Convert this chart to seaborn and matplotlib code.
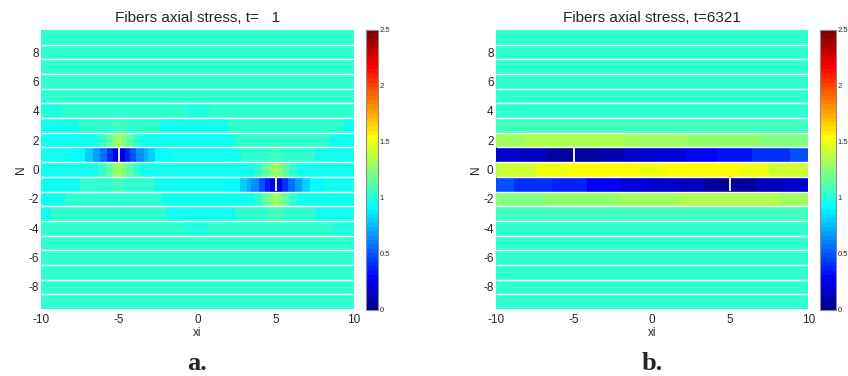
import numpy as np
import matplotlib
matplotlib.use("Agg")
import matplotlib.pyplot as plt
import seaborn as sns
from matplotlib.colors import ListedColormap

# ---- data ----
fiber_n = [9, 8, 7, 6, 5, 4, 3, 2, 1, 0, -1, -2, -3, -4, -5, -6, -7, -8, -9]
xi_ticks = [-10, -5, 0, 5, 10]
n_ticks = [8, 6, 4, 2, 0, -2, -4, -6, -8]
cbar_ticks = [0, 0.5, 1, 1.5, 2, 2.5]
cbar_labels = ["0", "0.5", "1", "1.5", "2", "2.5"]
titles = ["Fibers axial stress, t=   1", "Fibers axial stress, t=6321"]
panel_letters = ["a.", "b."]
break_xi = [-5, 5]
break_n = [1, -1]
bg_stress = 1.04

# panel a (t=1): piecewise constant stress per fiber, edges in xi
a_n5_edges = [-9.76]
a_n5_stress = [1.00, 1.04]
a_n4_edges = [-8.70, -0.67, 0.78]
a_n4_stress = [0.98, 1.04, 0.98, 1.04]
a_n3_edges = [-7.53, -5.51, -4.49, -2.42, 1.95, 9.36]
a_n3_stress = [0.96, 1.04, 1.07, 1.04, 0.96, 1.04, 0.96]
a_n2_edges = [-6.36, -5.85, -5.45, -5.2, -4.8, -4.55, -4.15, -3.69, 2.37, 8.45]
a_n2_stress = [0.96, 1.04, 1.15, 1.23, 1.31, 1.23, 1.15, 1.04, 0.96, 1.04, 0.96]
a_n1_edges = [-8.04, -7.19, -6.66, -6.23, -5.80, -5.38, -4.63, -4.31, -3.89,
              -3.46, -3.14, -2.72, -1.76, 2.82, 4.63, 5.38, 7.51]
a_n1_stress = [0.96, 0.92, 0.80, 0.68, 0.57, 0.41, 0.21, 0.37, 0.49,
               0.64, 0.72, 0.80, 0.92, 0.96, 1.04, 1.07, 1.04, 0.96]
a_n0_edges = [-6.34, -5.85, -5.45, -5.2, -4.8, -4.55, -4.15, -3.67,
              3.67, 4.15, 4.55, 4.8, 5.2, 5.45, 5.85, 6.34]
a_n0_stress = [0.96, 1.04, 1.15, 1.23, 1.31, 1.23, 1.15, 1.04, 0.96,
               1.04, 1.15, 1.23, 1.31, 1.23, 1.15, 1.04, 0.96]
a_nm1_edges = [-7.51, -5.38, -4.63, -2.82, 1.76, 2.72, 3.14, 3.46, 3.89,
               4.31, 4.63, 5.38, 5.80, 6.23, 6.66, 7.19, 8.04]
a_nm1_stress = [0.96, 1.04, 1.07, 1.04, 0.96, 0.92, 0.80, 0.72, 0.64,
                0.49, 0.37, 0.21, 0.41, 0.57, 0.68, 0.80, 0.92, 0.96]
a_nm2_edges = [-8.45, -2.37, 3.69, 4.15, 4.55, 4.8, 5.2, 5.45, 5.85, 6.36]
a_nm2_stress = [0.96, 1.04, 0.96, 1.04, 1.15, 1.23, 1.31, 1.23, 1.15, 1.04, 0.96]
a_nm3_edges = [-9.36, -1.95, 2.42, 4.49, 5.51, 7.53]
a_nm3_stress = [0.96, 1.04, 0.96, 1.04, 1.07, 1.04, 0.96]
a_nm4_edges = [-0.78, 0.67, 8.70]
a_nm4_stress = [1.04, 0.98, 1.04, 0.98]
a_nm5_edges = [9.76]
a_nm5_stress = [1.04, 1.00]

# panel b (t=6321)
b_n3_edges = []
b_n3_stress = [1.07]
b_n2_edges = [-8.17, -1.71, 2.24, 6.93]
b_n2_stress = [1.31, 1.35, 1.31, 1.27, 1.23]
b_n1_edges = [-8.53, -6.72, -3.37, -1.71, 0.21, 2.13, 4.16, 6.40, 8.85]
b_n1_stress = [0.18, 0.14, 0.06, 0.10, 0.18, 0.21, 0.29, 0.33, 0.41, 0.49]
b_n0_edges = [-9.71, -7.47, -5.37, -0.85, 0.90, 5.50, 7.50, 9.81]
b_n0_stress = [1.39, 1.43, 1.50, 1.54, 1.50, 1.54, 1.50, 1.43, 1.39]
b_nm1_edges = [-8.85, -6.40, -4.16, -2.07, -0.21, 1.60, 3.41, 6.72, 8.53]
b_nm1_stress = [0.49, 0.41, 0.37, 0.29, 0.21, 0.18, 0.14, 0.06, 0.14, 0.18]
b_nm2_edges = [-6.83, -2.18, 1.81, 8.21]
b_nm2_stress = [1.23, 1.27, 1.31, 1.35, 1.31]
b_nm3_edges = []
b_nm3_stress = [1.07]

a_rows = {5: (a_n5_edges, a_n5_stress), 4: (a_n4_edges, a_n4_stress),
          3: (a_n3_edges, a_n3_stress), 2: (a_n2_edges, a_n2_stress),
          1: (a_n1_edges, a_n1_stress), 0: (a_n0_edges, a_n0_stress),
          -1: (a_nm1_edges, a_nm1_stress), -2: (a_nm2_edges, a_nm2_stress),
          -3: (a_nm3_edges, a_nm3_stress), -4: (a_nm4_edges, a_nm4_stress),
          -5: (a_nm5_edges, a_nm5_stress)}
b_rows = {3: (b_n3_edges, b_n3_stress), 2: (b_n2_edges, b_n2_stress),
          1: (b_n1_edges, b_n1_stress), 0: (b_n0_edges, b_n0_stress),
          -1: (b_nm1_edges, b_nm1_stress), -2: (b_nm2_edges, b_nm2_stress),
          -3: (b_nm3_edges, b_nm3_stress)}

DX = 0.05
NCOL = int(round(20 / DX))
xi_centers = -10 + DX * (np.arange(NCOL) + 0.5)


def build_field(rows):
    field = np.full((len(fiber_n), NCOL), bg_stress)
    for i, n in enumerate(fiber_n):
        if n in rows:
            edges, vals = rows[n]
            field[i] = np.asarray(vals)[np.searchsorted(edges, xi_centers)]
    return field


def matlab_jet(m=64):
    """MATLAB style jet(m) colormap."""
    n = int(np.ceil(m / 4))
    u = np.concatenate([np.arange(1, n + 1) / n, np.ones(n - 1), np.arange(n, 0, -1) / n])
    g = int(np.ceil(n / 2)) - (m % 4 == 1) + np.arange(1, len(u) + 1)
    r = g + n
    b = g - n
    cols = np.zeros((m, 3))
    for ch, idx in ((0, r), (1, g), (2, b)):
        ok = (idx >= 1) & (idx <= m)
        cols[idx[ok] - 1, ch] = u[ok]
    return ListedColormap(cols)


sns.set_theme(style="white")
plt.rcParams["font.family"] = ["Liberation Sans", "DejaVu Sans"]

fig = plt.figure(figsize=(8.48, 3.76), dpi=100)
W, H = 848.0, 376.0
ax_boxes = [(41, 313), (495.7, 312.6)]
cax_boxes = [(366, 12.3), (820, 16.3)]
cmap = matlab_jet(64)

for k, rows in enumerate([a_rows, b_rows]):
    x0, w = ax_boxes[k]
    ax = fig.add_axes([x0 / W, (H - 309) / H, w / W, 279 / H])
    cx, cw = cax_boxes[k]
    cax = fig.add_axes([cx / W, (H - 310) / H, cw / W, 280 / H])

    field = build_field(rows)
    sns.heatmap(field, ax=ax, cbar_ax=cax, cmap=cmap, vmin=0, vmax=2.5,
                xticklabels=False, yticklabels=False, linewidths=0,
                rasterized=True)
    ax.collections[0].set_antialiased(False)

    # white gaps between fibers
    ax.hlines(np.arange(1, len(fiber_n)), 0, NCOL, colors="white", lw=1.0)
    # broken fibers
    for bx, bn in zip(break_xi, break_n):
        r = fiber_n.index(bn)
        ax.vlines((bx + 10) / DX, r + 0.04, r + 0.96, colors="white", lw=1.3)

    ax.set_xticks([(t + 10) / DX for t in xi_ticks])
    ax.set_xticklabels([str(t) for t in xi_ticks], fontsize=8.5)
    ax.set_yticks([fiber_n.index(t) + 0.5 for t in n_ticks])
    ax.set_yticklabels([str(t) for t in n_ticks], fontsize=8.5, rotation=0)
    ax.tick_params(axis="x", length=0, pad=3.5)
    ax.tick_params(axis="y", length=0, pad=1.5)
    ax.set_xlabel("xi", fontsize=8.5, labelpad=1)
    ax.set_ylabel("N", fontsize=8.5, labelpad=1)
    ax.set_title(titles[k], fontsize=11, pad=6)

    cbar = ax.collections[0].colorbar
    cbar.set_ticks(cbar_ticks)
    cbar.set_ticklabels(cbar_labels)
    cbar.ax.tick_params(labelsize=5.5, length=2, width=0.5, direction="in",
                        left=True, right=True, pad=1.0)
    cbar.outline.set_edgecolor("0.55")
    cbar.outline.set_linewidth(0.8)

    fig.text((x0 + w / 2) / W, (H - 370) / H, panel_letters[k],
             family=["Liberation Serif", "DejaVu Serif"], fontweight="bold",
             fontsize=19, ha="center", va="baseline")

fig.savefig("out.png", dpi=100)
